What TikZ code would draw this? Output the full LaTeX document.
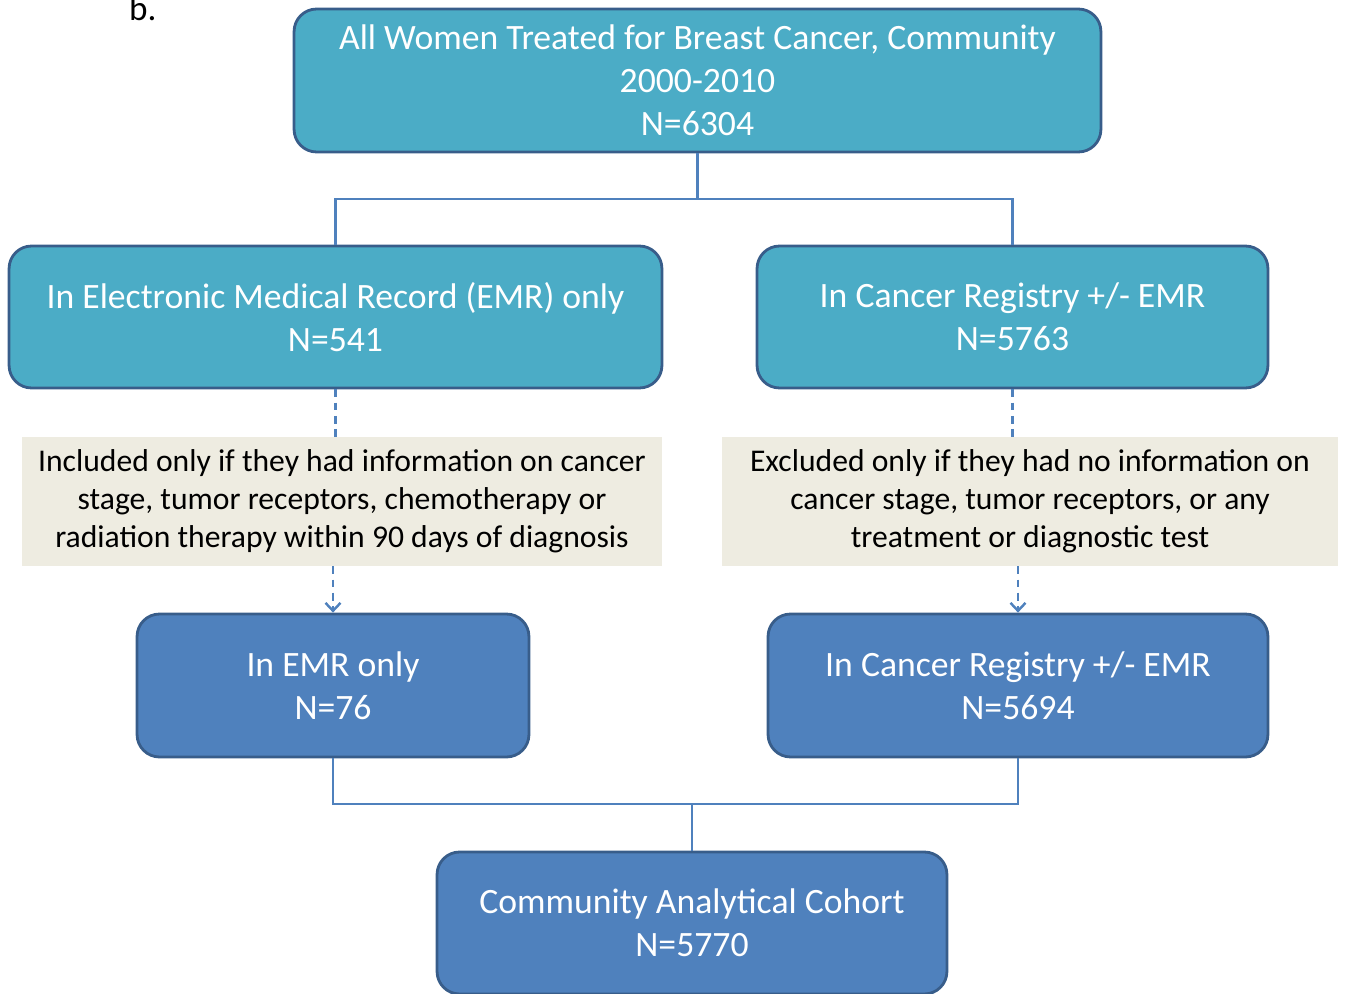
\documentclass[tikz,border=0pt]{standalone}
\usepackage{fontspec}
\setmainfont{Carlito}
\usetikzlibrary{arrows.meta}
\definecolor{aqua}{HTML}{4BACC6}
\definecolor{steel}{HTML}{4F81BD}
\definecolor{rim}{HTML}{385D8A}
\definecolor{note}{HTML}{EEECE1}
\begin{document}
\begin{tikzpicture}[x=0.02cm,y=-0.02cm,>={Straight Barb[length=4.5pt,width=8.5pt]},
    topbox/.style={draw=rim,line width=1.6pt,fill=aqua,rounded corners=0.45cm,text=white,
        font=\fontsize{20.3}{24.5}\selectfont,align=center,inner sep=0pt},
    lowbox/.style={topbox,fill=steel},
    notebox/.style={fill=note,font=\fontsize{18}{21.5}\selectfont,align=center,inner sep=0pt},
    link/.style={draw=steel,line width=1.4pt},
    dashlink/.style={link,dash pattern=on 4.5pt off 3pt}]
\useasboundingbox (0,0) rectangle (1347,994);

\node[anchor=base west,font=\fontsize{20}{24}\selectfont] (label) at (123,20) {b.};

\node[topbox,minimum width=16.14cm,minimum height=2.86cm] (all) at (697.5,80.5)
    {All Women Treated for Breast Cancer, Community\\2000-2010\\N=6304};
\node[topbox,minimum width=13.06cm,minimum height=2.84cm] (emr) at (335.5,317)
    {In Electronic Medical Record (EMR) only\\N=541};
\node[topbox,minimum width=10.22cm,minimum height=2.84cm] (reg) at (1012.5,317)
    {In Cancer Registry +/- EMR\\N=5763};

\node[notebox,minimum width=12.8cm,minimum height=2.58cm] (incl) at (342,501.5)
    {Included only if they had information on cancer\\stage, tumor receptors, chemotherapy or\\radiation therapy within 90 days of diagnosis};
\node[notebox,minimum width=12.32cm,minimum height=2.58cm] (excl) at (1030,501.5)
    {Excluded only if they had no information on\\cancer stage, tumor receptors, or any\\treatment or diagnostic test};

\node[lowbox,minimum width=7.84cm,minimum height=2.86cm] (emronly) at (333,685.5)
    {In EMR only\\N=76};
\node[lowbox,minimum width=10cm,minimum height=2.86cm] (regemr) at (1018,685.5)
    {In Cancer Registry +/- EMR\\N=5694};
\node[lowbox,minimum width=10.2cm,minimum height=2.84cm] (cohort) at (692,923)
    {Community Analytical Cohort\\N=5770};

% split below the first box
\coordinate (split) at (all.south |- 0,199);
\draw[link] (all.south) -- (split);
\draw[link] (emr.north) |- (split) -| (reg.north);

% selection steps
\draw[dashlink] (emr.south) -- (emr.south |- incl.north);
\draw[dashlink,->] (emronly.north |- incl.south) -- (emronly.north);
\draw[dashlink] (reg.south) -- (reg.south |- excl.north);
\draw[dashlink,->] (regemr.north |- excl.south) -- (regemr.north);

% merge into cohort
\coordinate (join) at (cohort.north |- 0,804);
\draw[link] (emronly.south) |- (join) -| (regemr.south);
\draw[link] (join) -- (cohort.north);
\end{tikzpicture}
\end{document}
